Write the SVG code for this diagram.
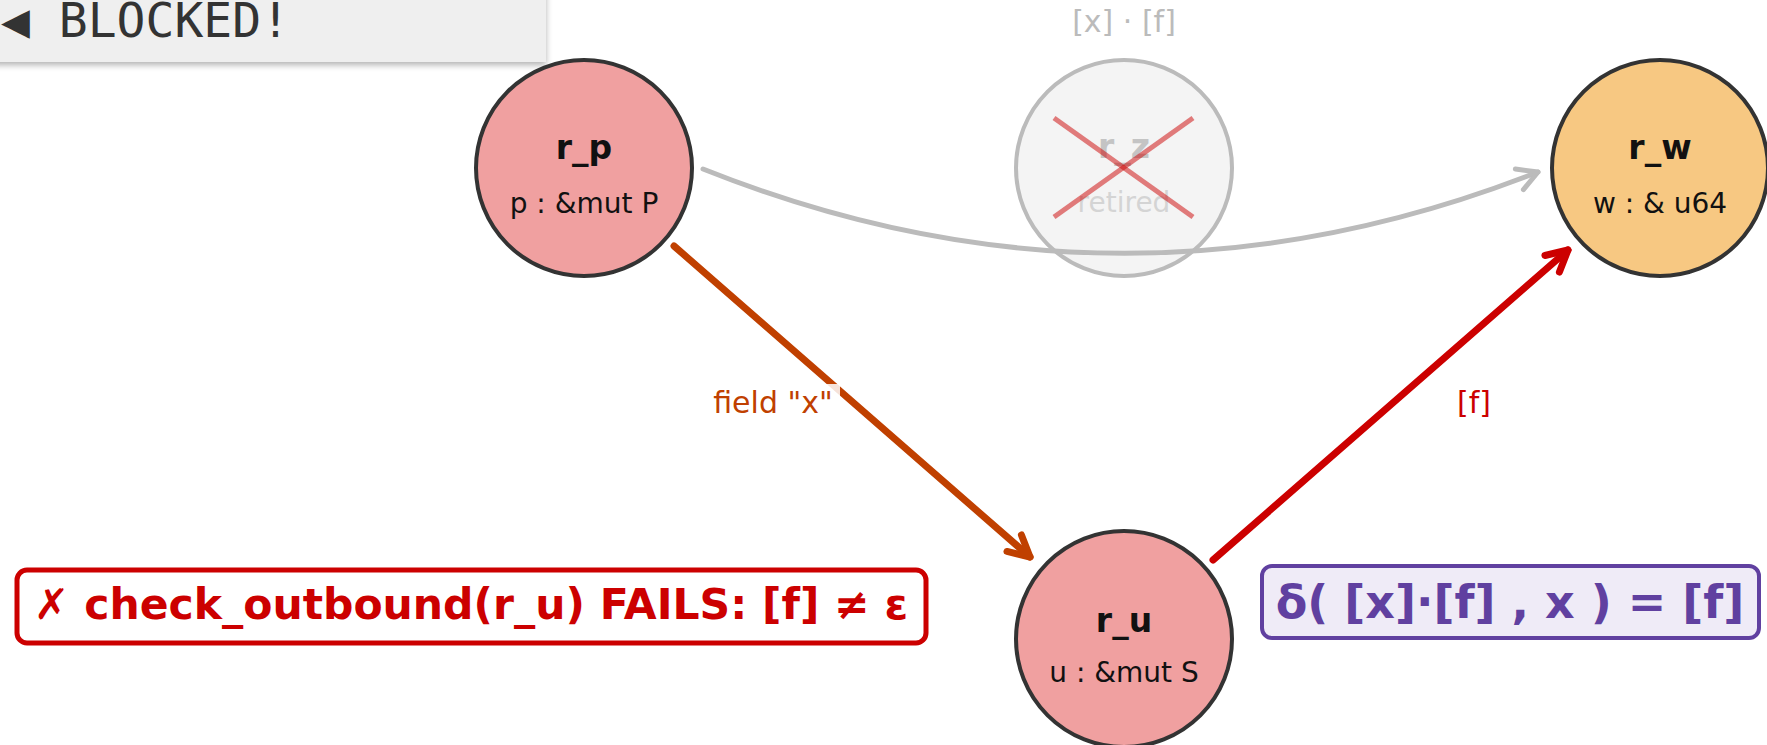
<svg xmlns="http://www.w3.org/2000/svg" width="1767" height="745" viewBox="0 0 1767 745">
<defs>
<style>
.node circle{stroke:#333;stroke-width:4}
.t{font-family:"DejaVu Sans",sans-serif;font-weight:bold;font-size:33px;fill:#111;text-anchor:middle}
.s{font-family:"DejaVu Sans",sans-serif;font-size:28px;fill:#111;text-anchor:middle}
.lbl{font-family:"DejaVu Sans",sans-serif;font-size:30px;text-anchor:middle}
.edge{fill:none;stroke-linecap:round}
</style>
<marker id="ah-grey" markerUnits="userSpaceOnUse" orient="auto" markerWidth="40" markerHeight="40" refX="0" refY="0" viewBox="-30 -20 40 40" overflow="visible">
<path d="M-20,-11 L0,0 L-20,11" fill="none" stroke="#bbb" stroke-width="5" stroke-linecap="round" stroke-linejoin="round"/>
</marker>
<marker id="ah-orange" markerUnits="userSpaceOnUse" orient="auto" markerWidth="40" markerHeight="40" refX="0" refY="0" viewBox="-30 -20 40 40" overflow="visible">
<path d="M-21,-11 L0,0 L-21,11" fill="none" stroke="#c04000" stroke-width="7" stroke-linecap="round" stroke-linejoin="round"/>
</marker>
<marker id="ah-red" markerUnits="userSpaceOnUse" orient="auto" markerWidth="40" markerHeight="40" refX="0" refY="0" viewBox="-30 -20 40 40" overflow="visible">
<path d="M-21,-11 L0,0 L-21,11" fill="none" stroke="#cc0000" stroke-width="7" stroke-linecap="round" stroke-linejoin="round"/>
</marker>
<filter id="shadow" x="-10%" y="-30%" width="120%" height="160%">
<feDropShadow dx="0" dy="3" stdDeviation="3" flood-color="#000" flood-opacity="0.3"/>
</filter>
</defs>
<rect width="1767" height="745" fill="#fff"/>

<g id="banner">
<rect x="-10" y="-20" width="556" height="82" fill="#efefef" filter="url(#shadow)"/>
<text x="1" y="37" font-family="DejaVu Sans Mono, monospace" font-size="48" fill="#333">◀ BLOCKED!</text>
</g>

<g id="r_p" class="node">
<circle cx="584" cy="168" r="108" fill="#f0a0a0"/>
<text class="t" x="584" y="159">r_p</text>
<text class="s" x="584" y="213">p : &amp;mut P</text>
</g>

<g id="r_z" class="node">
<text class="lbl" x="1124" y="32" fill="#bbb">[x] · [f]</text>
<circle cx="1124" cy="168" r="108" fill="#f4f4f4" style="stroke:#bbb"/>
<text class="t" x="1124" y="158" style="fill:#c4c4c4">r_z</text>
<text class="s" x="1124" y="212" style="fill:#d4d4d4">retired</text>
<g stroke="#cc0000" stroke-opacity="0.5" stroke-width="5">
<line x1="1054" y1="118" x2="1193" y2="217"/>
<line x1="1054" y1="217" x2="1193" y2="118"/>
</g>
</g>

<g id="r_w" class="node">
<circle cx="1660" cy="168" r="108" fill="#f7c882"/>
<text class="t" x="1660" y="159">r_w</text>
<text class="s" x="1660" y="213">w : &amp; u64</text>
</g>

<g id="r_u" class="node">
<circle cx="1124" cy="639" r="108" fill="#f0a0a0"/>
<text class="t" x="1124" y="632">r_u</text>
<text class="s" x="1124" y="682">u : &amp;mut S</text>
</g>

<g id="connectors">
<path class="edge" d="M703,169 Q1121,336 1538,172" stroke="#bbb" stroke-width="5" marker-end="url(#ah-grey)"/>
<line class="edge" x1="674" y1="246" x2="1030" y2="557" stroke="#c04000" stroke-width="7" marker-end="url(#ah-orange)"/>
<line class="edge" x1="1213" y1="560" x2="1568" y2="250" stroke="#cc0000" stroke-width="7" marker-end="url(#ah-red)"/>
<rect x="708" y="384" width="132" height="38" fill="#fff" opacity="0.85"/>
<text class="lbl" x="773" y="413" fill="#c04000">field "x"</text>
<text class="lbl" x="1474" y="413" fill="#cc0000">[f]</text>
</g>

<g id="fail-box">
<rect x="17" y="570" width="909" height="73" rx="10" fill="#fff" stroke="#cc0000" stroke-width="5"/>
<text x="471" y="619" font-family="DejaVu Sans, sans-serif" font-weight="bold" font-size="42.5" fill="#cc0000" text-anchor="middle">✗ check_outbound(r_u) FAILS: [f] ≠ ε</text>
</g>

<g id="delta-box">
<rect x="1262" y="566" width="497" height="72" rx="10" fill="#efebf7" stroke="#6040a0" stroke-width="4"/>
<text x="1510" y="618" font-family="DejaVu Sans, sans-serif" font-weight="bold" font-size="46" fill="#6040a0" text-anchor="middle">δ( [x]·[f] , x ) = [f]</text>
</g>
</svg>
